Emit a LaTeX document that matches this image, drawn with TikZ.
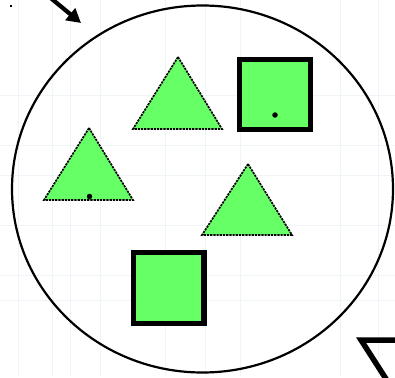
\documentclass[tikz,border=0pt]{standalone}
\usetikzlibrary{arrows.meta,shapes.geometric}
\definecolor{shapegreen}{RGB}{102,255,102}
\definecolor{gridfaint}{RGB}{238,244,248}
\tikzset{
  tri/.style={draw=black, fill=shapegreen, line width=1.7pt, dash pattern=on 2.2pt off 1pt, line join=miter},
  sq/.style={draw=black, fill=shapegreen, line width=5.5pt},
  bigring/.style={draw=black, line width=2.2pt},
  grid/.style={draw=gridfaint, line width=1pt},
  pin/.style={fill=black, circle, inner sep=0pt, minimum size=5.5pt},
}
\begin{document}
\begin{tikzpicture}[x=1pt,y=-1pt]
\useasboundingbox (0,0) rectangle (395,377);
\fill[white] (0,0) rectangle (395,377);
% faint background grid
\foreach \gx in {18,52,70,100,165,205,240,340,378}{\draw[grid] (\gx,0) -- (\gx,377);}
\foreach \gy in {95,145,175,225,275,300}{\draw[grid] (0,\gy) -- (395,\gy);}
% big ring
\node[bigring, ellipse, minimum width=381pt, minimum height=367pt, inner sep=0pt] (ring) at (202.5,189) {};
% incoming arrow
\coordinate (arrowstart) at (47,-5);
\coordinate (arrowtip) at (81,23);
\draw[line width=4.2pt, -{Triangle[length=14pt,width=15pt]}] (arrowstart) -- (arrowtip);
\node[fill=black, minimum size=2.5pt, inner sep=0pt] (speck) at (11,6) {};
% triangles
\coordinate (t1a) at (178,57); \coordinate (t1b) at (133,129); \coordinate (t1c) at (222,129);
\draw[tri] (t1a) -- (t1c) -- (t1b) -- cycle;
\coordinate (t2a) at (89,128); \coordinate (t2b) at (44,200); \coordinate (t2c) at (133,200);
\draw[tri] (t2a) -- (t2c) -- (t2b) -- cycle;
\node[pin] (t2dot) at (89.5,196.5) {};
\coordinate (t3a) at (248,164); \coordinate (t3b) at (202,235); \coordinate (t3c) at (292,235);
\draw[tri] (t3a) -- (t3c) -- (t3b) -- cycle;
% squares
\draw[sq] (239.5,59.5) rectangle (310.5,129.5);
\node[pin] (s1dot) at (275,115) {};
\draw[sq] (133.5,252.5) rectangle (204,323.5);
% bottom right partial shape
\coordinate (br) at (361,340);
\draw[line width=5.5pt, line join=miter] (402,340) -- (br) -- (388,382);
\end{tikzpicture}
\end{document}
